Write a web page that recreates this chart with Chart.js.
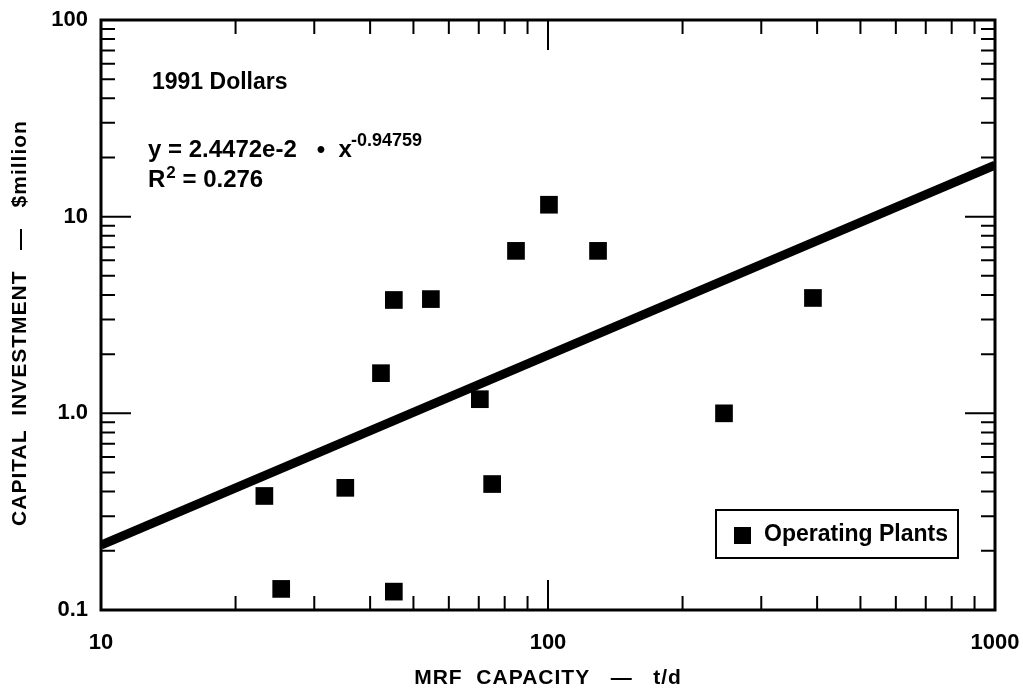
<!DOCTYPE html>
<html>
<head>
<meta charset="utf-8">
<script src="https://cdn.jsdelivr.net/npm/chart.js@4.4.1/dist/chart.umd.min.js"></script>
<style>
  html, body { margin: 0; padding: 0; background: #fff; }
</style>
</head>
<body>
<canvas id="capChart" width="1023" height="692"></canvas>
<script>
// operating plants: capacity (t/d) vs capital investment ($ million)
const capacity   = [23.2, 25.3, 35.2, 42.3, 45.2, 45.2, 54.7, 70.4, 75.0, 84.8, 100.5, 129.4, 247.6, 391.5];
const investment = [0.38, 0.128, 0.418, 1.60, 3.77, 0.124, 3.81, 1.18, 0.437, 6.70, 11.5, 6.70, 1.0, 3.86];

// fitted power curve, read at the two ends of the plot
const fitX = [10, 1000];
const fitY = [0.214, 18.3];

const xTickLabels = [10, 100, 1000];
const yTickLabels = [0.1, 1, 10, 100];
const xMinorTicks = [20, 30, 40, 50, 60, 70, 80, 90, 200, 300, 400, 500, 600, 700, 800, 900];
const yMinorTicks = [0.2, 0.3, 0.4, 0.5, 0.6, 0.7, 0.8, 0.9, 2, 3, 4, 5, 6, 7, 8, 9, 20, 30, 40, 50, 60, 70, 80, 90];
const xMajorTicks = [100];
const yMajorTicks = [1, 10];

const seriesLabel = 'Operating Plants';
const FONT = '"Liberation Sans", Arial, Helvetica, sans-serif';

function near(v, list) {
  return list.some(t => Math.abs(Math.log10(v) - Math.log10(t)) < 1e-6);
}

// frame, inward ticks, notes, axis titles and the boxed legend
const decorations = {
  id: 'decorations',
  afterDraw(chart) {
    const { ctx, chartArea: a, scales } = chart;
    const xs = scales.x, ys = scales.y;
    ctx.save();
    ctx.strokeStyle = '#000';
    ctx.lineCap = 'butt';

    // ticks on all four sides, pointing into the plot
    ctx.lineWidth = 2;
    ctx.beginPath();
    const tickX = (v, len) => {
      const px = xs.getPixelForValue(v);
      ctx.moveTo(px, a.bottom); ctx.lineTo(px, a.bottom - len);
      ctx.moveTo(px, a.top); ctx.lineTo(px, a.top + len);
    };
    const tickY = (v, len) => {
      const py = ys.getPixelForValue(v);
      ctx.moveTo(a.left, py); ctx.lineTo(a.left + len, py);
      ctx.moveTo(a.right, py); ctx.lineTo(a.right - len, py);
    };
    xMinorTicks.forEach(v => tickX(v, 14));
    xMajorTicks.forEach(v => tickX(v, 30));
    yMinorTicks.forEach(v => tickY(v, 14));
    yMajorTicks.forEach(v => tickY(v, 30));
    ctx.stroke();

    // frame
    ctx.lineWidth = 3;
    ctx.strokeRect(a.left, a.top, a.right - a.left, a.bottom - a.top);

    // notes
    ctx.fillStyle = '#000';
    ctx.textBaseline = 'middle';
    ctx.textAlign = 'left';
    ctx.font = 'bold 23px ' + FONT;
    ctx.fillText('1991 Dollars', 152, 83);

    ctx.font = 'bold 24px ' + FONT;
    let t = 'y = 2.4472e-2   \u2022  x';
    ctx.fillText(t, 148, 150);
    let w = ctx.measureText(t).width;
    ctx.font = 'bold 18px ' + FONT;
    ctx.fillText('-0.94759', 148 + w - 1, 141);

    ctx.font = 'bold 24px ' + FONT;
    ctx.fillText('R', 148, 180);
    w = ctx.measureText('R').width;
    ctx.font = 'bold 17px ' + FONT;
    ctx.fillText('2', 148 + w + 1, 173);
    const w2 = ctx.measureText('2').width;
    ctx.font = 'bold 24px ' + FONT;
    ctx.fillText(' = 0.276', 148 + w + w2 + 1, 180);

    // axis titles
    ctx.font = 'bold 21px ' + FONT;
    ctx.letterSpacing = '1px';
    ctx.textAlign = 'center';
    ctx.fillText('MRF  CAPACITY   \u2014   t/d', (a.left + a.right) / 2, 678);
    ctx.save();
    ctx.translate(20, (a.top + a.bottom) / 2 + 8);
    ctx.rotate(-Math.PI / 2);
    ctx.fillText('CAPITAL  INVESTMENT   \u2014   $million', 0, 0);
    ctx.restore();
    ctx.letterSpacing = '0px';

    // legend box
    const bx = 716, by = 510, bw = 242, bh = 48;
    ctx.fillStyle = '#fff';
    ctx.fillRect(bx, by, bw, bh);
    ctx.lineWidth = 2;
    ctx.strokeRect(bx, by, bw, bh);
    ctx.fillStyle = '#000';
    ctx.fillRect(734, 527, 17, 17);
    ctx.textAlign = 'left';
    ctx.font = 'bold 23px ' + FONT;
    ctx.fillText(seriesLabel, 764, 535);

    ctx.restore();
  }
};

const ctx = document.getElementById('capChart').getContext('2d');

new Chart(ctx, {
  type: 'scatter',
  data: {
    datasets: [
      {
        label: 'Fit',
        data: fitX.map((x, i) => ({ x: x, y: fitY[i] })),
        showLine: true,
        borderColor: '#000',
        borderWidth: 9,
        pointRadius: 0,
        order: 2
      },
      {
        label: seriesLabel,
        data: capacity.map((x, i) => ({ x: x, y: investment[i] })),
        pointStyle: 'rect',
        pointRadius: 12.5,
        pointHoverRadius: 12.5,
        backgroundColor: '#000',
        borderColor: '#000',
        borderWidth: 0,
        order: 1
      }
    ]
  },
  options: {
    responsive: false,
    animation: false,
    events: [],
    layout: { padding: { top: 20, right: 28, left: 0, bottom: 0 } },
    plugins: {
      legend: { display: false },
      tooltip: { enabled: false }
    },
    scales: {
      x: {
        type: 'logarithmic',
        min: 10,
        max: 1000,
        grid: { display: false },
        border: { display: false },
        afterFit(scale) {
          scale.height = 82;
          scale.paddingLeft = 0;
          scale.paddingRight = 0;
        },
        ticks: {
          autoSkip: false,
          maxRotation: 0,
          padding: 12,
          color: '#000',
          font: { family: FONT, size: 22, weight: 'bold' },
          callback: v => near(v, xTickLabels) ? String(v) : null
        }
      },
      y: {
        type: 'logarithmic',
        min: 0.1,
        max: 100,
        grid: { display: false },
        border: { display: false },
        afterFit(scale) {
          scale.width = 101;
          scale.paddingTop = 0;
          scale.paddingBottom = 0;
        },
        ticks: {
          autoSkip: false,
          padding: 5,
          color: '#000',
          font: { family: FONT, size: 22, weight: 'bold' },
          callback: v => near(v, yTickLabels) ? (near(v, [1]) ? '1.0' : String(v)) : null
        }
      }
    }
  },
  plugins: [decorations]
});
</script>
</body>
</html>
